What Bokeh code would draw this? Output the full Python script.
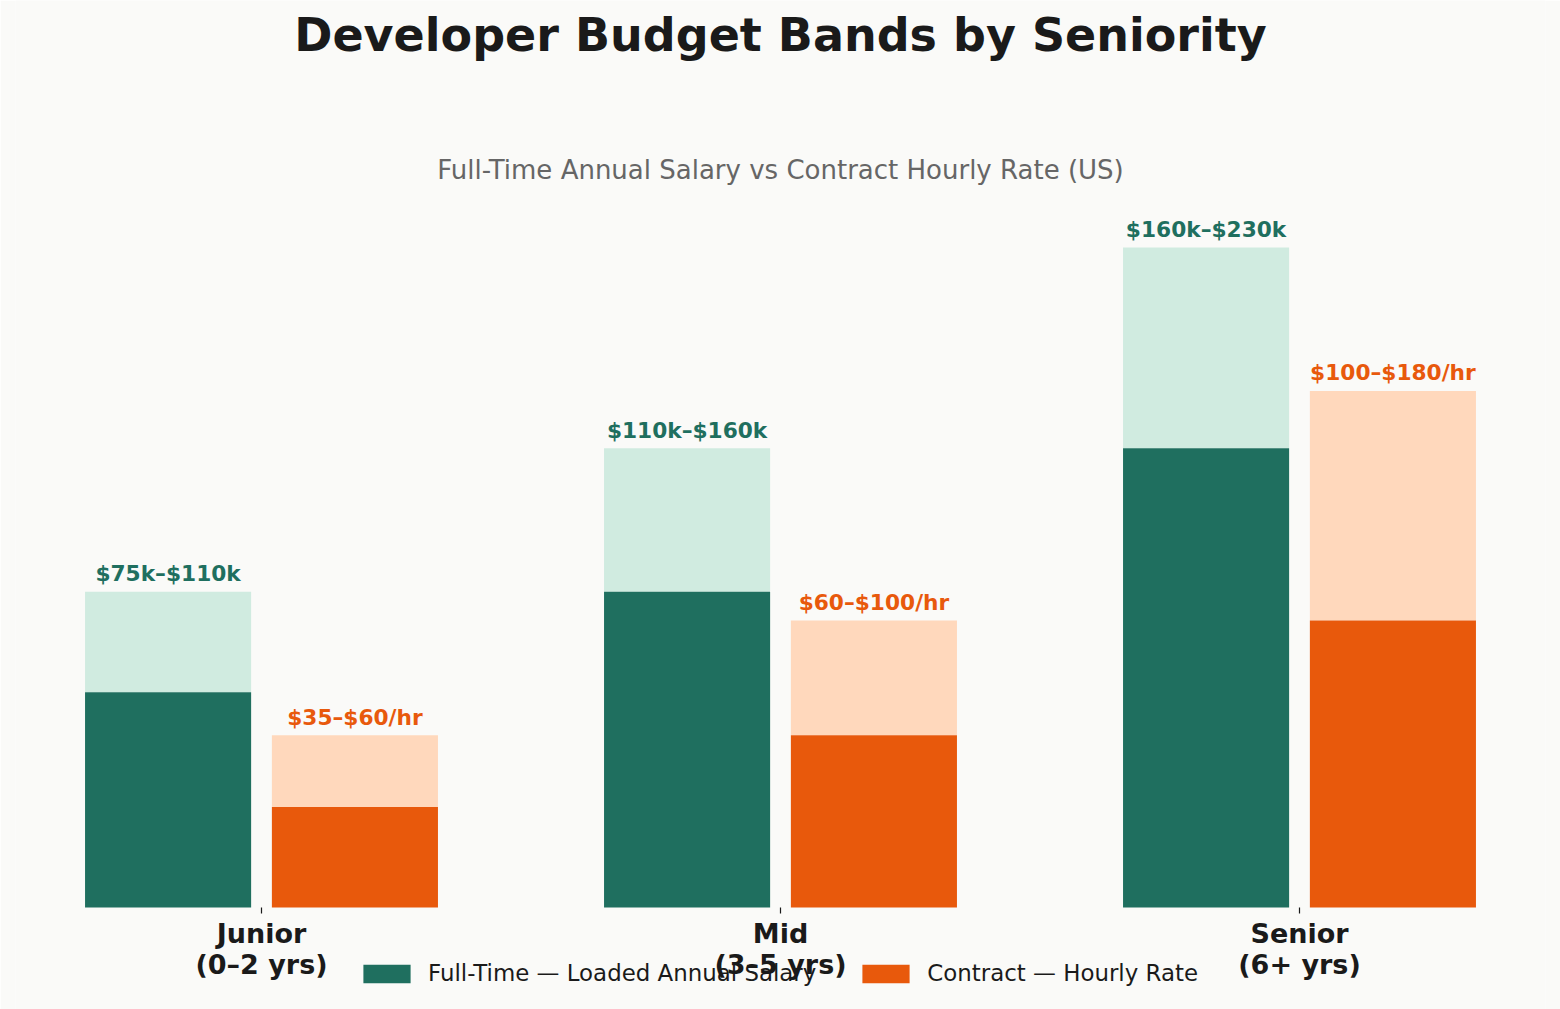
import numpy as np
from bokeh.plotting import figure
from bokeh.models import (Range1d, FixedTicker, Legend, LegendItem, Label,
                          ColumnDataSource)
from bokeh.core.properties import value
from bokeh.embed import file_html
from bokeh.resources import INLINE

# ---- data ----
categories = ["Junior\n(0–2 yrs)", "Mid\n(3–5 yrs)", "Senior\n(6+ yrs)"]
ft_low = [75, 110, 160]     # $k per year
ft_high = [110, 160, 230]
ct_low = [35, 60, 100]      # $ per hour
ct_high = [60, 100, 180]
ft_labels = ["$75k–$110k", "$110k–$160k", "$160k–$230k"]
ct_labels = ["$35–$60/hr", "$60–$100/hr", "$100–$180/hr"]

title_text = "Developer Budget Bands by Seniority"
subtitle_text = "Full-Time Annual Salary vs Contract Hourly Rate (US)"

# ---- style ----
BG = "#FAFAF8"
DARK_G = "#1F6F5F"
LIGHT_G = "#D0EBE0"
DARK_O = "#E8590C"
LIGHT_O = "#FFD8BC"
FONT = "DejaVu Sans"
BAR_W = 0.32
OFF = 0.18

idx = np.arange(len(categories))
src = ColumnDataSource(dict(
    x_ft=idx - OFF, x_ct=idx + OFF,
    ft_low=ft_low, ft_high=ft_high, ct_low=ct_low, ct_high=ct_high,
    ft_lab=ft_labels, ct_lab=ct_labels,
))

p = figure(width=1560, height=1009, output_backend="svg", toolbar_location=None,
           x_range=Range1d(-0.474, 2.474), y_range=Range1d(-35.54, 316.03),
           min_border_left=15, min_border_right=15, min_border_top=0,
           min_border_bottom=0)
p.background_fill_color = BG
p.border_fill_color = BG
p.outline_line_color = None
p.xgrid.visible = False
p.ygrid.visible = False
p.yaxis.visible = False

# light full-range bands
p.vbar(x="x_ft", width=BAR_W, bottom="ft_low", top="ft_high", source=src,
       fill_color=LIGHT_G, line_color=None)
p.vbar(x="x_ct", width=BAR_W, bottom="ct_low", top="ct_high", source=src,
       fill_color=LIGHT_O, line_color=None)
# solid base bars
r_ft = p.vbar(x="x_ft", width=BAR_W, bottom=0, top="ft_low", source=src,
              fill_color=DARK_G, line_color=None)
r_ct = p.vbar(x="x_ct", width=BAR_W, bottom=0, top="ct_low", source=src,
              fill_color=DARK_O, line_color=None)

# value labels
p.text(x="x_ft", y="ft_high", text="ft_lab", source=src, text_align="center",
       text_baseline="alphabetic", y_offset=-18, text_font=value(FONT),
       text_font_style="bold", text_font_size="21.7px", text_color=DARK_G)
p.text(x="x_ct", y="ct_high", text="ct_lab", source=src, text_align="center",
       text_baseline="alphabetic", y_offset=-18, text_font=value(FONT),
       text_font_style="bold", text_font_size="21.7px", text_color=DARK_O)

# x axis, drawn at y = 0 inside the frame
ax = p.xaxis[0]
ax.fixed_location = 0
ax.ticker = FixedTicker(ticks=list(idx))
ax.major_label_overrides = {int(i): c for i, c in zip(idx, categories)}
ax.axis_line_alpha = 0
ax.minor_tick_line_color = None
ax.major_tick_out = 6
ax.major_tick_in = 0
ax.major_tick_line_color = "#1a1a1a"
ax.major_tick_line_width = 1.2
ax.major_label_text_font = FONT
ax.major_label_text_font_style = "bold"
ax.major_label_text_font_size = "27px"
ax.major_label_text_color = "#1a1a1a"
ax.major_label_text_line_height = 1.0
ax.major_label_standoff = 4

# titles
p.add_layout(Label(x=1.0, y=303.9, text=title_text, text_align="center",
                   text_baseline="alphabetic", text_font=FONT,
                   text_font_style="bold", text_font_size="46px",
                   text_color="#1a1a1a"))
p.add_layout(Label(x=1.0, y=256.8, text=subtitle_text, text_align="center",
                   text_baseline="alphabetic", text_font=FONT,
                   text_font_size="26px", text_color="#666666"))

# legend
legend = Legend(items=[
    LegendItem(label="Full-Time — Loaded Annual Salary", renderers=[r_ft]),
    LegendItem(label="Contract — Hourly Rate", renderers=[r_ct]),
], orientation="horizontal", location=(342, 23))
legend.glyph_width = 59
legend.glyph_height = 23
legend.label_standoff = 12
legend.spacing = 40
legend.padding = 0
legend.margin = 0
legend.border_line_alpha = 0
legend.background_fill_alpha = 0
legend.label_text_font = FONT
legend.label_text_font_size = "22.9px"
legend.label_text_color = "#1a1a1a"
legend.label_height = 26
p.add_layout(legend)

open("out.html", "w").write(file_html(p, INLINE))
